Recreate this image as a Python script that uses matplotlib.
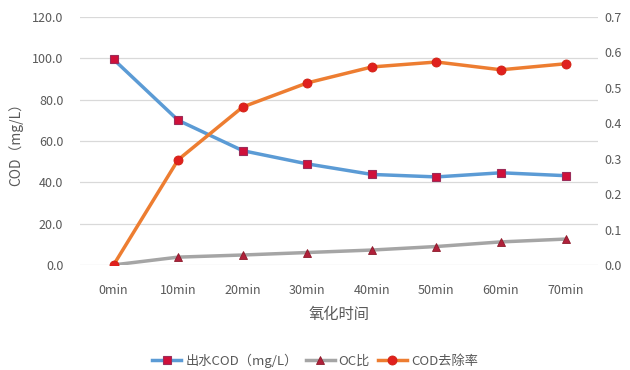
import numpy as np
import matplotlib
matplotlib.use("Agg")
import matplotlib.pyplot as plt

plt.rcParams['font.family'] = ['Noto Sans CJK SC', 'DejaVu Sans']

# data
times = ['0min', '10min', '20min', '30min', '40min', '50min', '60min', '70min']
cod_out = [99.5, 70.0, 55.3, 48.9, 43.8, 42.6, 44.6, 43.2]          # 出水COD (mg/L), left axis
oc_ratio = [0.0, 0.022, 0.028, 0.035, 0.042, 0.052, 0.065, 0.073]   # OC比, right axis
cod_removal = [0.0, 0.297, 0.446, 0.514, 0.559, 0.573, 0.551, 0.568]  # COD去除率, right axis

x = np.arange(len(times))
txt = '#595959'

fig = plt.figure(figsize=(6.3, 3.7), dpi=100)
ax = fig.add_axes([0.127, 0.284, 0.822, 0.670])
ax2 = ax.twinx()

l1, = ax.plot(x, cod_out, color='#5B9BD5', lw=2.5, marker='s', ms=6,
              mfc='#D0103A', mec='#9B2D5A', mew=0.8, label='出水COD（mg/L）', zorder=3)
l2, = ax2.plot(x, oc_ratio, color='#A5A5A5', lw=2.5, marker='^', ms=6,
               mfc='#B0203A', mec='#8B1A2A', mew=0.6, label='OC比', zorder=3)
l3, = ax2.plot(x, cod_removal, color='#ED7D31', lw=2.5, marker='o', ms=6.5,
               mfc='#E0201E', mec='#D02010', mew=0.6, label='COD去除率', zorder=3)

ax.set_xlim(-0.52, 7.5)
ax.set_ylim(0, 120)
ax.set_yticks(np.arange(0, 121, 20))
ax.set_yticklabels(['%.1f' % v for v in np.arange(0, 121, 20)])
ax2.set_ylim(0, 0.7)
ax2.set_yticks(np.arange(0, 0.71, 0.1))
ax2.set_yticklabels(['%.1f' % v for v in np.arange(0, 0.71, 0.1)])
ax.set_xticks(x)
ax.set_xticklabels(times)

ax.grid(axis='y', color='#D9D9D9', lw=0.9)
ax.set_axisbelow(True)
for a in (ax, ax2):
    for s in a.spines.values():
        s.set_visible(False)
    a.tick_params(length=0, colors=txt, labelsize=9)
ax.tick_params(axis='x', pad=14)
ax.tick_params(axis='y', pad=12)
ax2.tick_params(axis='y', pad=5)

ax.set_xlabel('氧化时间', color=txt, fontsize=11, labelpad=6)
ax.set_ylabel('COD（mg/L）', color=txt, fontsize=10, labelpad=6)

fig.legend(handles=[l1, l2, l3], loc='center', bbox_to_anchor=(0.5, 0.025),
           ncol=3, frameon=False, fontsize=9.5, labelcolor=txt,
           handlelength=2.2, columnspacing=0.6, handletextpad=0.3)

fig.savefig('out.png', dpi=100, facecolor='white')
